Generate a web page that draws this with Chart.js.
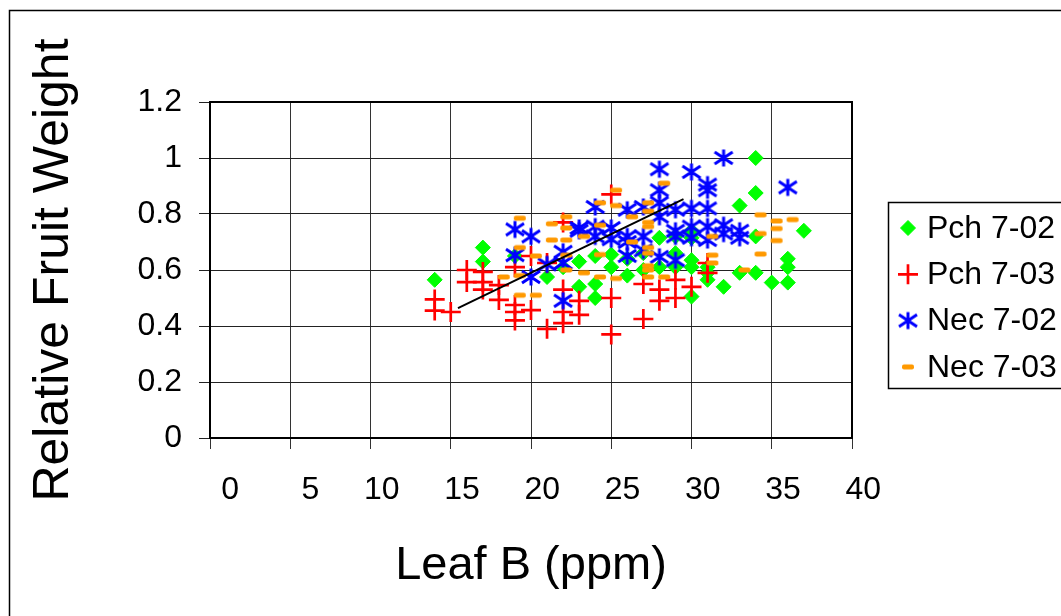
<!DOCTYPE html>
<html lang="en">
<head>
    <meta charset="UTF-8">
    <title>Relative Fruit Weight vs Leaf B</title>
    <script src="https://cdn.jsdelivr.net/npm/chart.js"></script>
    <style>
        body { margin: 0; background: #fff; }
        #wrap { width: 1061px; height: 616px; }
    </style>
</head>
<body>
<div id="wrap"><canvas id="scatter" width="1061" height="616"></canvas></div>

<script>
    // Pch 7-02 (green diamonds)
    const pch02X = [14,17,17,19,21,22,23,23,24,24,24,25,25,26,26,27,27,28,28,29,29,29,30,30,30,30,30,31,31,31,32,33,33,34,34,34,34,35,36,36,36,37];
    const pch02Y = [0.565,0.68,0.63,0.65,0.575,0.61,0.63,0.54,0.55,0.50,0.65,0.655,0.61,0.58,0.64,0.66,0.60,0.715,0.61,0.66,0.61,0.72,0.74,0.715,0.635,0.61,0.505,0.61,0.59,0.565,0.54,0.83,0.59,1.0,0.875,0.72,0.59,0.555,0.64,0.61,0.555,0.74];

    // Pch 7-03 (red plus)
    const pch03X = [14,14,15,16,16,17,17,17,18,18,19,19,19,19,20,20,21,21,22,22,22,22,23,23,25,25,25,27,27,28,28,29,29,30,31,31];
    const pch03Y = [0.495,0.455,0.45,0.60,0.557,0.593,0.557,0.53,0.546,0.493,0.61,0.475,0.45,0.42,0.65,0.457,0.625,0.39,0.77,0.53,0.45,0.41,0.49,0.44,0.87,0.50,0.37,0.55,0.425,0.53,0.49,0.565,0.50,0.54,0.59,0.625];

    // Nec 7-02 (blue asterisks)
    const nec02X = [19,19,20,20,21,22,22,22,23,23,24,24,24,25,25,26,26,26,26,27,27,27,28,28,28,28,28,29,29,29,29,30,30,30,30,31,31,31,31,31,32,32,32,33,33,36];
    const nec02Y = [0.745,0.653,0.72,0.575,0.62,0.665,0.625,0.49,0.75,0.74,0.825,0.755,0.72,0.75,0.71,0.815,0.72,0.65,0.70,0.825,0.72,0.67,0.96,0.885,0.84,0.79,0.647,0.815,0.74,0.72,0.635,0.95,0.82,0.755,0.715,0.905,0.885,0.82,0.755,0.707,1.0,0.76,0.73,0.74,0.715,0.895];

    // Nec 7-03 (orange dashes)
    const nec03X = [18.3,19.3,19.3,19.3,19.3,20.3,20.3,21.3,21.3,22.2,22.2,22.2,22.2,22.2,23.3,23.3,24.3,24.3,24.3,24.3,25.3,25.3,25.3,26.3,26.3,27.3,27.3,27.3,27.3,27.3,27.3,27.3,27.3,27.3,28.3,28.3,31.3,31.3,31.3,33.3,34.3,34.3,34.3,35.3,35.3,35.3,36.3];
    const nec03Y = [0.575,0.785,0.68,0.58,0.51,0.65,0.51,0.765,0.707,0.79,0.75,0.707,0.653,0.60,0.72,0.59,0.84,0.76,0.655,0.575,0.885,0.83,0.57,0.79,0.70,0.84,0.81,0.77,0.755,0.68,0.66,0.615,0.60,0.575,0.91,0.575,0.72,0.653,0.625,0.60,0.797,0.73,0.657,0.775,0.748,0.705,0.78];

    // trend line end points
    const trendX = [15.45, 29.5];
    const trendY = [0.464, 0.853];

    const seriesLabels = ['Pch 7-02', 'Pch 7-03', 'Nec 7-02', 'Nec 7-03'];
    const xTicks = [0, 5, 10, 15, 20, 25, 30, 35, 40];
    const xTickLabels = ['0', '5', '10', '15', '20', '25', '30', '35', '40'];
    const yTicks = [0, 0.2, 0.4, 0.6, 0.8, 1.0, 1.2];
    const yTickLabels = ['0', '0.2', '0.4', '0.6', '0.8', '1', '1.2'];

    const FONT = '"Liberation Sans", Arial, sans-serif';
    Chart.defaults.font.family = FONT;
    Chart.defaults.color = '#000';

    function zip(xs, ys) {
        return xs.map((x, i) => ({ x: x, y: ys[i] }));
    }

    // marker images for the asterisk and dash styles
    function makeAsterisk() {
        const cv = document.createElement('canvas');
        cv.width = 22; cv.height = 20;
        const g = cv.getContext('2d');
        g.strokeStyle = '#0000ff';
        g.lineWidth = 3;
        g.beginPath();
        g.moveTo(11, 1.5); g.lineTo(11, 18.5);
        g.moveTo(2, 4); g.lineTo(20, 16);
        g.moveTo(2, 16); g.lineTo(20, 4);
        g.stroke();
        return cv;
    }
    function makeDash() {
        const cv = document.createElement('canvas');
        cv.width = 14; cv.height = 8;
        const g = cv.getContext('2d');
        g.fillStyle = '#ff9900';
        g.beginPath();
        g.roundRect(1, 1.5, 12, 5, 2);
        g.fill();
        return cv;
    }

    // outer frame, plot border and boxed legend
    const framePlugin = {
        id: 'frame',
        beforeDraw(chart) {
            const c = chart.ctx;
            c.save();
            c.fillStyle = '#fff';
            c.fillRect(0, 0, chart.width, chart.height);
            c.strokeStyle = '#000';
            c.lineWidth = 1.5;
            c.strokeRect(9.5, 10.5, 1200, 800);
            c.restore();
        },
        afterDraw(chart) {
            const c = chart.ctx;
            const a = chart.chartArea;
            c.save();
            c.strokeStyle = '#000';
            c.lineWidth = 2;
            c.strokeRect(a.left, a.top, a.right - a.left, a.bottom - a.top);

            c.lineWidth = 1.5;
            c.strokeRect(888.5, 202.5, 300, 186);
            c.font = '32px ' + FONT;
            c.textBaseline = 'middle';
            c.textAlign = 'left';
            let row = 0;
            chart.data.datasets.forEach(ds => {
                if (!ds.label) return;
                const y = 228 + row * 46.3;
                c.fillStyle = ds.pointBackgroundColor || '#000';
                c.strokeStyle = ds.pointBorderColor || '#000';
                c.lineWidth = ds.pointBorderWidth || 1;
                Chart.helpers.drawPoint(c, {
                    pointStyle: ds.pointStyle,
                    radius: ds.pointRadius,
                    borderWidth: ds.pointBorderWidth || 0,
                    rotation: 0
                }, 908, y);
                c.fillStyle = '#000';
                c.fillText(ds.label, 927, y + 1);
                row++;
            });
            c.restore();
        }
    };

    const ctx = document.getElementById('scatter').getContext('2d');
    new Chart(ctx, {
        type: 'scatter',
        data: {
            datasets: [
                {
                    label: seriesLabels[0], data: zip(pch02X, pch02Y), order: 4,
                    pointStyle: 'rectRot', pointRadius: 7.5, pointHoverRadius: 7.5,
                    pointBackgroundColor: '#00ff00', pointBorderColor: '#00ff00', pointBorderWidth: 1
                },
                {
                    label: seriesLabels[1], data: zip(pch03X, pch03Y), order: 3,
                    pointStyle: 'cross', pointRadius: 10, pointHoverRadius: 10,
                    pointBackgroundColor: '#ff0000', pointBorderColor: '#ff0000', pointBorderWidth: 2.7
                },
                {
                    label: seriesLabels[2], data: zip(nec02X, nec02Y), order: 2,
                    pointStyle: makeAsterisk(), pointRadius: 10, pointHoverRadius: 10,
                    pointBackgroundColor: '#0000ff', pointBorderColor: '#0000ff', pointBorderWidth: 0
                },
                {
                    label: seriesLabels[3], data: zip(nec03X, nec03Y), order: 1,
                    pointStyle: makeDash(), pointRadius: 6, pointHoverRadius: 6,
                    pointBackgroundColor: '#ff9900', pointBorderColor: '#ff9900', pointBorderWidth: 0
                },
                {
                    label: '', data: zip(trendX, trendY), order: 0,
                    showLine: true, pointRadius: 0, borderColor: '#000', borderWidth: 2
                }
            ]
        },
        options: {
            responsive: false,
            animation: false,
            layout: { padding: { left: 0, top: 102, right: 209, bottom: 0 } },
            plugins: {
                legend: { display: false },
                tooltip: { enabled: false }
            },
            scales: {
                x: {
                    type: 'linear', min: 0, max: 40,
                    afterFit: s => { s.height = 178; },
                    afterBuildTicks: s => { s.ticks = xTicks.map(v => ({ value: v })); },
                    grid: { color: '#333', lineWidth: 1, tickLength: 11 },
                    border: { color: '#000', width: 2 },
                    ticks: {
                        font: { size: 32 }, color: '#000', padding: 22,
                        align: 'end', labelOffset: 29, maxRotation: 0,
                        callback: (v, i) => xTickLabels[i]
                    },
                    title: {
                        display: true, text: 'Leaf B (ppm)', color: '#000',
                        font: { size: 47 }, padding: { bottom: 22 }
                    }
                },
                y: {
                    type: 'linear', min: 0, max: 1.2,
                    afterFit: s => { s.width = 210; },
                    afterBuildTicks: s => { s.ticks = yTicks.map(v => ({ value: v })); },
                    grid: { color: '#222', lineWidth: 1, tickLength: 11 },
                    border: { color: '#000', width: 2 },
                    ticks: {
                        font: { size: 32 }, color: '#000', padding: 17,
                        callback: (v, i) => yTickLabels[i]
                    },
                    title: {
                        display: true, text: 'Relative Fruit Weight', color: '#000',
                        font: { size: 50 }, padding: { top: 24 }
                    }
                }
            }
        },
        plugins: [framePlugin]
    });
</script>
</body>
</html>
